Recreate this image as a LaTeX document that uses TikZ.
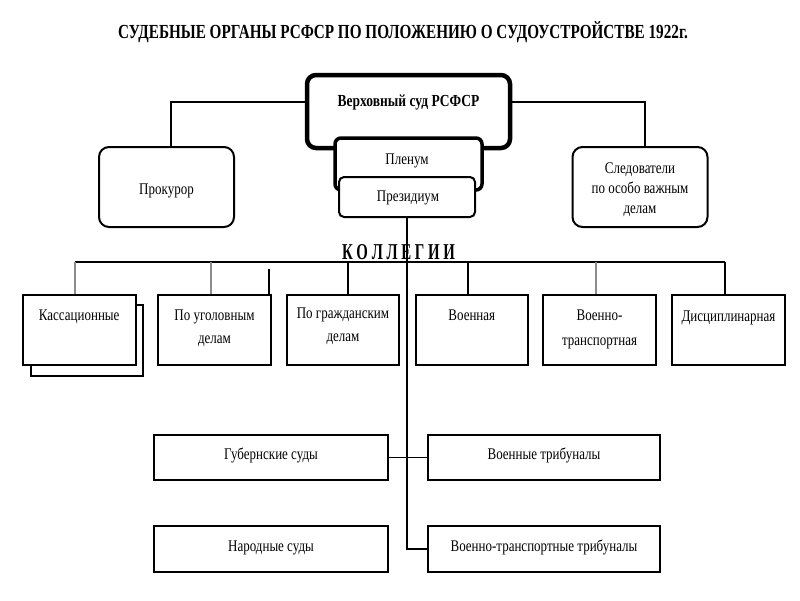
\documentclass[tikz,border=0pt]{standalone}
\usepackage{fontspec}
\setmainfont{Liberation Serif}
\usepackage{graphicx}
\newcommand{\vt}[1]{\scalebox{1}[1.25]{\begin{tabular}{@{}c@{}}#1\end{tabular}}}
\begin{document}
\begin{tikzpicture}[x=1pt,y=-1pt,
  box/.style={draw, fill=white, inner sep=0pt, line width=1.8pt},
  topbox/.style={box, line width=2pt, rounded corners=10pt, minimum width=135pt, minimum height=80pt},
  colbox/.style={box, minimum width=113pt, minimum height=70pt},
  lowbox/.style={box, line width=2pt, minimum width=233pt, minimum height=45pt},
  txt/.style={font=\fontsize{13}{18.4}\selectfont, inner sep=0pt},
  conn/.style={line width=1.2pt},
  drop/.style={line width=1.5pt},
  graydrop/.style={line width=1.5pt, draw=black!45}]
\useasboundingbox (0,0) rectangle (800,600);
\fill[white] (0,0) rectangle (800,600);

% title
\node[inner sep=0pt, anchor=base] (title) at (403,38)
  {\resizebox{570pt}{17pt}{\bfseries СУДЕБНЫЕ ОРГАНЫ РСФСР ПО ПОЛОЖЕНИЮ О СУДОУСТРОЙСТВЕ 1922г.}};

% supreme court group
\node[box, minimum width=203pt, minimum height=73pt, rounded corners=9pt, line width=4.5pt] (verh) at (408.5,111.5) {};
\node[box, minimum width=147pt, minimum height=52pt, rounded corners=6pt, line width=3.5pt] (plen) at (408.5,164) {};
\node[box, minimum width=136pt, minimum height=40pt, rounded corners=5pt, line width=2pt] (prez) at (407,197) {};
\node[txt, font=\fontsize{13.5}{16}\selectfont\bfseries] (verht) at (408.5,102) {\vt{Верховный суд РСФСР}};
\node[txt] (plent) at (407,160) {\vt{Пленум}};
\node[txt] (prezt) at (408,197) {\vt{Президиум}};

\node[topbox] (prok) at (166.5,187) {};
\node[topbox] (sled) at (640,187) {};
\node[txt] (prokt) at (166.5,190) {\vt{Прокурор}};
\node[txt, font=\fontsize{13}{16}\selectfont] (sledt) at (640,189) {\vt{Следователи\\по особо важным\\делам}};

\draw[conn] ([xshift=4.5pt]prok.north) |- ([yshift=9.5pt]verh.west);
\draw[conn] ([xshift=5pt]sled.north) |- ([yshift=9.5pt]verh.east);

% collegia
\node[inner sep=0pt, anchor=base] (kol) at (398.5,259)
  {\resizebox{113pt}{15pt}{\bfseries К О Л Л Е Г И И}};
\coordinate (bus) at (0,262);

\node[colbox, minimum width=112pt, minimum height=71pt] (kassback) at (86.9,340.5) {};
\node[colbox] (kass) at (79.2,330) {};
\node[colbox] (ugol) at (214.5,330) {};
\node[colbox, minimum width=112pt] (grazh) at (343,330) {};
\node[colbox, minimum width=112pt] (voen) at (471.8,330) {};
\node[colbox] (vtr) at (599.5,330) {};
\node[colbox] (disc) at (728.5,330) {};

\node[txt] (kasst) at (79.2,316) {\vt{Кассационные}};
\node[txt] (ugolt) at (214.5,327) {\vt{По уголовным\\делам}};
\node[txt] (grazht) at (343,325) {\vt{По гражданским\\делам}};
\node[txt] (voent) at (471.8,316) {\vt{Военная}};
\node[txt, font=\fontsize{13}{20}\selectfont] (vtrt) at (599.5,328) {\vt{Военно-\\транспортная}};
\node[txt] (disct) at (728.5,317) {\vt{Дисциплинарная}};

\draw[line width=2pt] ([xshift=-4pt]kass.north |- bus) -- ([xshift=-3.5pt]disc.north |- bus);
\draw[graydrop] ([xshift=-4pt]kass.north) -- ([xshift=-4pt]kass.north |- bus);
\draw[graydrop] ([xshift=-3.5pt]ugol.north) -- ([xshift=-3.5pt]ugol.north |- bus);
\draw[drop] ([xshift=-3pt]ugol.north east) -- ++(0,-25);
\draw[drop] ([xshift=5pt]grazh.north) -- ([xshift=5pt]grazh.north |- bus);
\draw[drop] ([xshift=-4pt]voen.north) -- ([xshift=-4pt]voen.north |- bus);
\draw[graydrop] ([xshift=-3.5pt]vtr.north) -- ([xshift=-3.5pt]vtr.north |- bus);
\draw[drop] ([xshift=-3.5pt]disc.north) -- ([xshift=-3.5pt]disc.north |- bus);

% lower courts
\node[lowbox, minimum width=234pt] (gub) at (271,457.5) {};
\node[lowbox, minimum width=234pt, minimum height=46pt] (nar) at (271,549) {};
\node[lowbox, minimum width=232pt] (vtrib) at (544,457.5) {};
\node[lowbox, minimum width=232pt, minimum height=46pt] (vttrib) at (544,549) {};
\node[txt] (gubt) at (271,455) {\vt{Губернские суды}};
\node[txt] (nart) at (271,547) {\vt{Народные суды}};
\node[txt] (vtribt) at (544,455) {\vt{Военные трибуналы}};
\node[txt] (vttribt) at (544,547) {\vt{Военно-транспортные трибуналы}};

\draw[conn] (prez.south) |- (vttrib.west);
\draw[line width=1.6pt] (gub.east) -- (vtrib.west);
\end{tikzpicture}
\end{document}
